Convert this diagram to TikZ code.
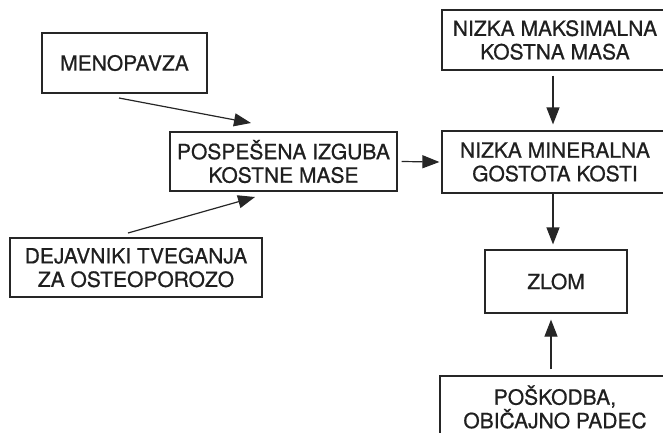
\documentclass[tikz,border=0pt]{standalone}
\usepackage{fontspec}
\setmainfont[FakeBold=0.7]{TeX Gyre Heros}
\usetikzlibrary{arrows.meta}
\begin{document}
\begin{tikzpicture}[x=1pt,y=-1pt,
  box/.style={draw=black!85, line width=1.2pt, rectangle, inner sep=0pt, align=center,
    font=\fontsize{21}{23.5}\selectfont, text=black!88},
  arr/.style={draw=black!85, line width=1.2pt, -{Triangle[length=17pt,width=13pt]}}]
\useasboundingbox (0,0) rectangle (663,432);
\clip (0,0) rectangle (663,432);
\node[box, minimum width=165pt, minimum height=60pt] (A) at (124.5,63) {MENOPAVZA};
\node[box, minimum width=227pt, minimum height=59pt] (B) at (283.5,161.5) {POSPEŠENA IZGUBA\\KOSTNE MASE};
\node[box, minimum width=252pt, minimum height=59pt] (C) at (136,267.5) {DEJAVNIKI TVEGANJA\\ZA OSTEOPOROZO};
\node[box, minimum width=226pt, minimum height=60pt] (D) at (555,40) {NIZKA MAKSIMALNA\\KOSTNA MASA};
\node[box, minimum width=226pt, minimum height=62pt] (E) at (555,162) {NIZKA MINERALNA\\GOSTOTA KOSTI};
\node[box, minimum width=142pt, minimum height=63pt] (F) at (556,281.5) {ZLOM};
\node[box, minimum width=230pt, minimum height=62pt] (G) at (555,407) {POŠKODBA,\\OBIČAJNO PADEC};
\coordinate (a1) at (119,98);
\coordinate (b1) at (251,123);
\coordinate (c1) at (128,233);
\coordinate (b2) at (255,197);
\draw[arr] (a1) -- (b1);
\draw[arr] (c1) -- (b2);
\draw[arr] ([xshift=4pt]B.east) -- ([xshift=-2pt]E.west);
\draw[arr, shorten <=5pt, shorten >=6pt] (D.south -| 553,0) -- (E.north -| 553,0);
\draw[arr, shorten >=5pt] (E.south -| 553,0) -- (F.north -| 553,0);
\draw[arr, shorten <=6pt, shorten >=6pt] (G.north -| 551,0) -- (F.south -| 551,0);
\end{tikzpicture}
\end{document}
